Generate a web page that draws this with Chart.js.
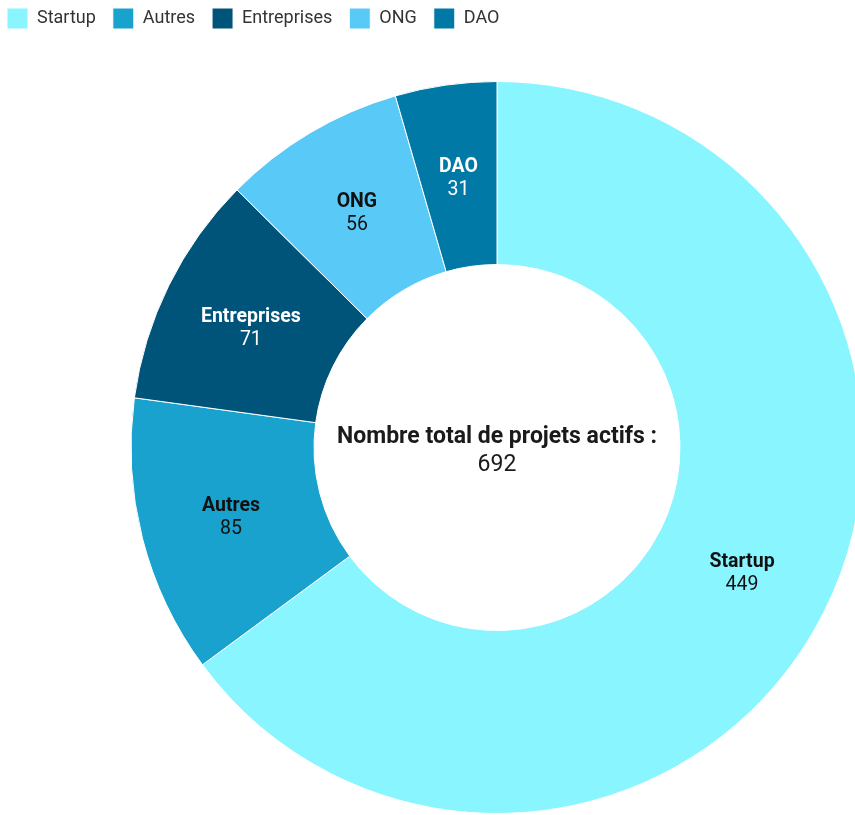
<!DOCTYPE html>
<html>
<head>
<meta charset="utf-8">
<script src="https://cdn.jsdelivr.net/npm/chart.js@4/dist/chart.umd.min.js"></script>
<style>
  html, body { margin: 0; padding: 0; overflow: hidden; background: #fff; width: 855px; height: 815px; }
  #wrap { position: absolute; left: -10px; top: -9px; width: 1014px; height: 824px; }
</style>
</head>
<body>
<div id="wrap"><canvas id="c"></canvas></div>
<script>
const categories = ['Startup', 'Autres', 'Entreprises', 'ONG', 'DAO'];
const values = [449, 85, 71, 56, 31];
const colors = ['#89F5FF', '#19A2CD', '#005379', '#59CAF8', '#0079A6'];
const labelColors = ['#111111', '#111111', '#ffffff', '#111111', '#ffffff'];
const centerTitle = 'Nombre total de projets actifs :';
const total = values.reduce((a, b) => a + b, 0);

const FONT = 'Roboto, "Noto Sans", sans-serif';

const legendHeight = {
  id: 'legendHeight',
  beforeInit(chart) {
    const orig = chart.legend.fit;
    chart.legend.fit = function () {
      orig.bind(chart.legend)();
      this.height = 90;
    };
  }
};

const segLabels = {
  id: 'segLabels',
  afterDatasetsDraw(chart) {
    const ctx = chart.ctx;
    const meta = chart.getDatasetMeta(0);
    ctx.save();
    ctx.textAlign = 'center';
    ctx.textBaseline = 'middle';
    meta.data.forEach((arc, i) => {
      const p = arc.getCenterPoint();
      ctx.fillStyle = labelColors[i];
      ctx.font = 'bold 19.5px ' + FONT;
      ctx.fillText(categories[i], p.x, p.y - 9);
      ctx.font = '19.5px ' + FONT;
      ctx.fillText(String(values[i]), p.x, p.y + 14);
    });
    const a = meta.data[0];
    ctx.fillStyle = '#1a1a1a';
    ctx.font = 'bold 23px ' + FONT;
    ctx.fillText(centerTitle, a.x, a.y - 10);
    ctx.font = '23px ' + FONT;
    ctx.fillText(String(total), a.x, a.y + 18);
    ctx.restore();
  }
};

new Chart(document.getElementById('c'), {
  type: 'doughnut',
  data: {
    labels: categories,
    datasets: [{
      data: values,
      backgroundColor: colors,
      borderColor: '#ffffff',
      borderWidth: 1
    }]
  },
  options: {
    responsive: true,
    maintainAspectRatio: false,
    animation: false,
    cutout: '50%',
    layout: { padding: { top: 0, bottom: 1, left: 0, right: 0 } },
    plugins: {
      tooltip: { enabled: false },
      legend: {
        position: 'top',
        align: 'start',
        labels: {
          boxWidth: 21,
          boxHeight: 21,
          padding: 17,
          color: '#333333',
          font: { family: FONT, size: 18 }
        }
      }
    }
  },
  plugins: [legendHeight, segLabels]
});
</script>
</body>
</html>
